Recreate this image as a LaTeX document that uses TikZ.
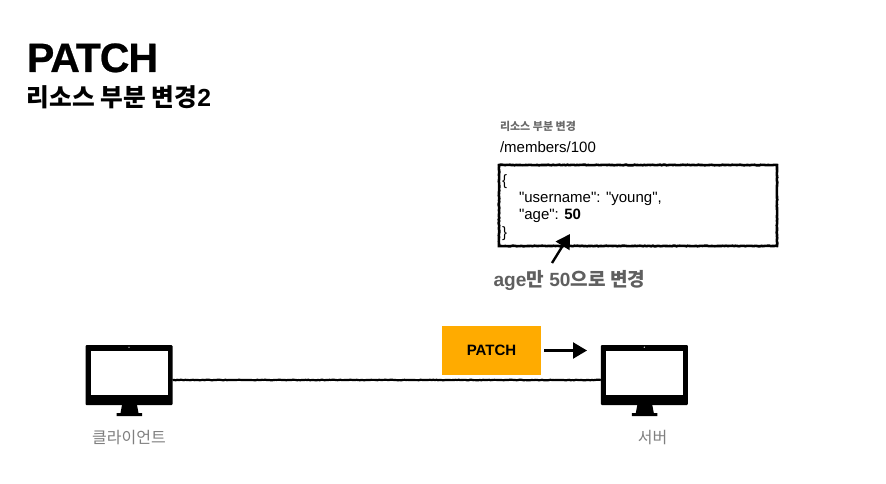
\documentclass[tikz,border=0pt]{standalone}
\usepackage{fontspec}
\setmainfont{Liberation Sans}
\newfontfamily\kr{Noto Sans CJK KR}
\newfontfamily\jsonfont{Liberation Sans}
\usetikzlibrary{decorations.pathmorphing,arrows.meta}
\pgfmathsetseed{7}
\tikzset{
  x=1pt,y=-1pt,
  every node/.style={inner sep=0pt,outer sep=0pt},
  rough/.style={decorate,decoration={random steps,segment length=1.6pt,amplitude=0.28pt}},
  wire/.style={rough,line width=2.2pt,draw=black},
  txt/.style={anchor=base west,text=black},
  json/.style={txt,font=\fontsize{15}{17}\selectfont\jsonfont},
  gray label/.style={anchor=base,text=labelgray,font=\fontsize{16}{20}\selectfont\kr},
  pic frame/.style={fill=black,rounded corners=1pt},
  pic screen/.style={fill=white},
  kite/.style={line width=2.4pt,-{Triangle[length=14pt,width=16pt]}},
}
\definecolor{labelgray}{HTML}{7F7F7F}
\definecolor{notegray}{HTML}{5F5F5F}
\definecolor{capgray}{HTML}{6A6A6A}
\definecolor{patchorange}{HTML}{FFAB00}
\newcommand{\monitor}[2]{%
  \begin{scope}[shift={(#1,0)}]
    \node[pic frame,minimum width=87pt,minimum height=60pt,anchor=north west] (#2) at (85.5,345) {};
    \fill[pic screen] (91,350.5) rectangle (167.5,395);
    \fill[white] (129,347.2) circle (0.7pt);
    \fill[black] (122,405) -- (137,405) -- (138.5,413) -- (142,413) -- (142,416) -- (116.5,416) -- (116.5,413) -- (120.5,413) -- cycle;
  \end{scope}}
\begin{document}
\begin{tikzpicture}
\useasboundingbox[fill=white] (0,0) rectangle (886,484);
\node[txt,font=\fontsize{41}{45}\selectfont\bfseries\addfontfeature{LetterSpace=-2.5,FakeBold=0.6}] (title) at (27,72) {PATCH};
\node[txt,font=\fontsize{24.7}{28}\selectfont\bfseries] (sub) at (27,107) {{\kr\bfseries 리소스 부분 변경}2};
\node[txt,text=capgray,font=\fontsize{11}{12}\selectfont\kr\bfseries] (cap) at (500,131) {리소스 부분 변경};
\node[txt,font=\fontsize{15}{17}\selectfont] (path) at (500,153) {/members/100};
\coordinate (boxnw) at (499,165);
\coordinate (boxse) at (777,246);
\draw[wire,line width=2.6pt] (boxnw) rectangle (boxse);
\node[json] (l1) at (502,185) {\{};
\node[json] (l2) at (519,202.5) {"username": "young",};
\node[json] (l3) at (519,219.5) {"age": \textbf{50}};
\node[json] (l4) at (502,237) {\}};
\node[txt,text=notegray,font=\fontsize{19.1}{24}\selectfont\bfseries] (note) at (493.5,286) {age{\kr\bfseries 만} 50{\kr\bfseries 으로 변경}};
\coordinate (notearrow) at (552,263);
\coordinate (notetip) at (570,234);
\draw[kite] (notearrow) -- (notetip);
\monitor{0}{client}
\monitor{515.3}{server}
\draw[wire] (client.east |- 0,380) -- (server.west |- 0,380);
\node[fill=patchorange,minimum width=99pt,minimum height=49pt,anchor=north west,text=black,font=\fontsize{15}{17}\selectfont\bfseries] (patch) at (442,326) {PATCH};
\coordinate (flowstart) at (544,350.5);
\coordinate (flowend) at (587,350.5);
\draw[kite] (flowstart) -- (flowend);
\node[gray label] (clientlabel) at (129,443) {클라이언트};
\node[gray label] (serverlabel) at (652.5,443) {서버};
\end{tikzpicture}
\end{document}
